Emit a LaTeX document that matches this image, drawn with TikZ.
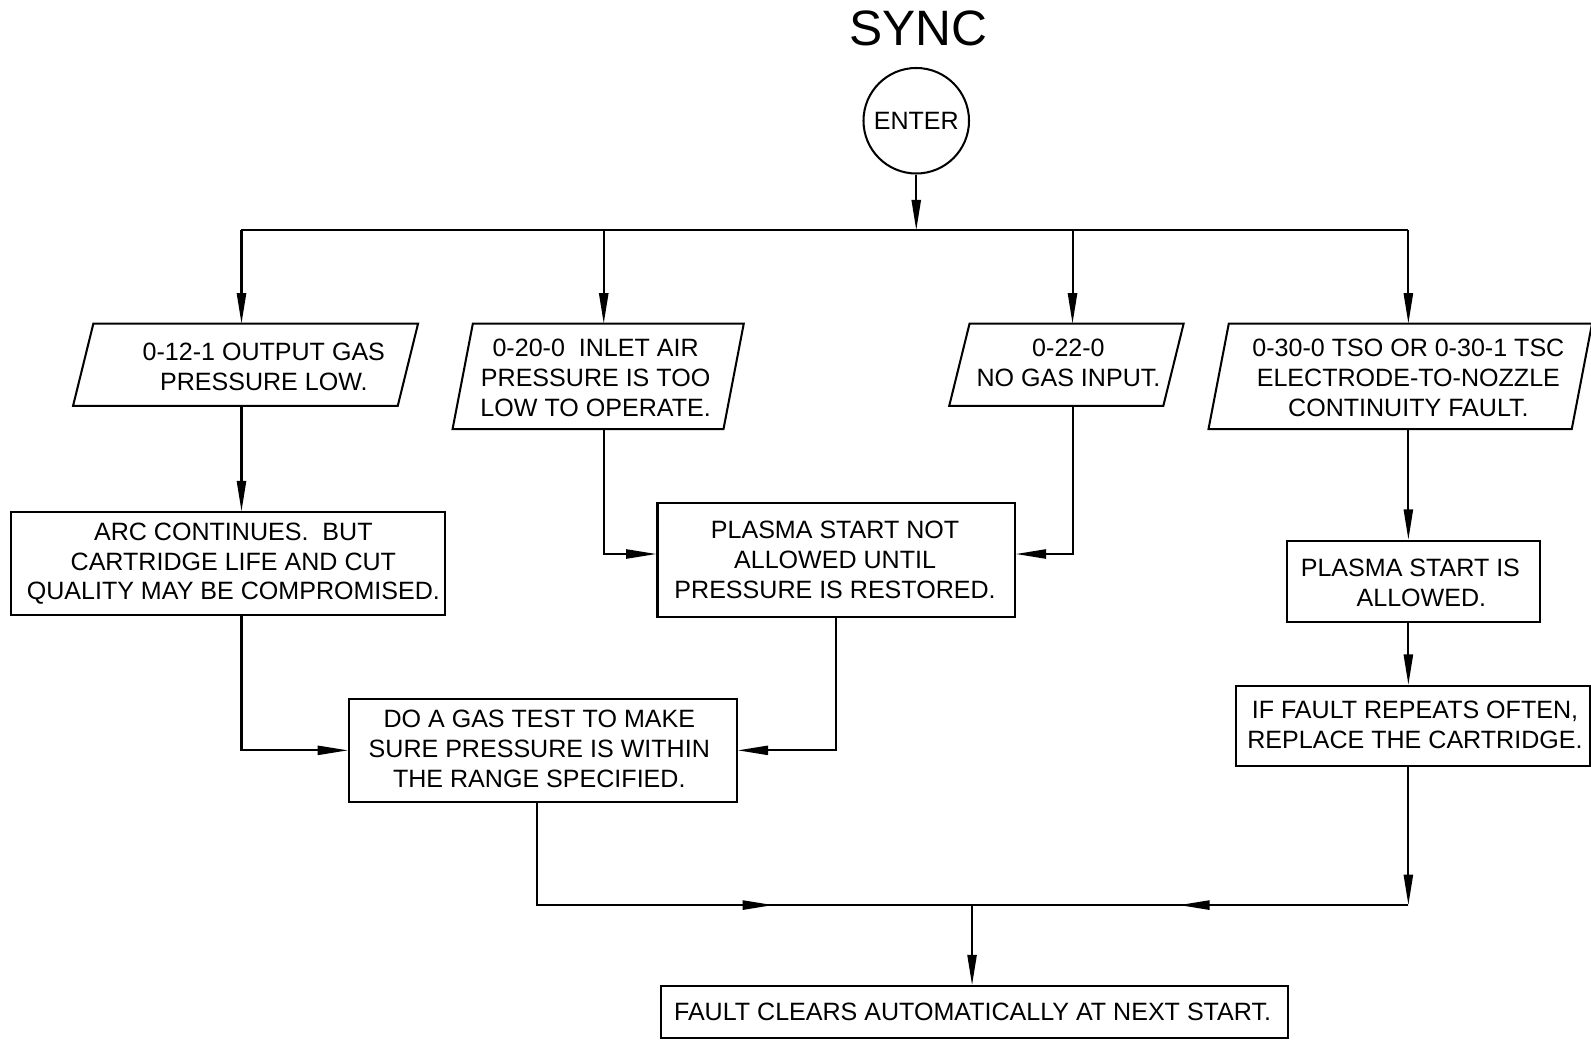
\documentclass[tikz,border=0pt]{standalone}
\usepackage{fontspec}
\setmainfont{Liberation Sans}
\usetikzlibrary{arrows.meta}
\tikzset{
  ln/.style={line width=2pt},
  arr/.style={ln, -{Triangle[length=30pt,width=9pt]}},
  box/.style={draw, ln, rectangle, inner sep=0pt},
  frame/.style={draw=none, rectangle, inner sep=0pt, outer sep=0pt},
  txt/.style={align=center, inner sep=0pt, font=\fontsize{24.7}{29.5}\selectfont},
  para/.style={ln, line join=miter},
}
\begin{document}
\begin{tikzpicture}[x=1pt,y=-1pt]
\fill[white] (0,0) rectangle (1568,1024);
\useasboundingbox (0,0) rectangle (1568,1024);

% title and start
\node[txt, font=\fontsize{49}{56}\selectfont] (title) at (905,28) {SYNC};
\node[circle, draw, ln, minimum size=104pt, txt] (enter) at (903,119) {ENTER};

% parallelograms (frames + outlines)
\node[frame, minimum width=320pt, minimum height=81pt] (p1) at (242,359.5) {};
\node[frame, minimum width=267pt, minimum height=104pt] (p2) at (589.5,371) {};
\node[frame, minimum width=211pt, minimum height=81pt] (p3) at (1051,359.5) {};
\node[frame, minimum width=358pt, minimum height=104pt] (p4) at (1380,371) {};
\foreach \p in {p1,p2,p3,p4}{
  \draw[para] ([xshift=10pt]\p.north west) -- ([xshift=10pt]\p.north east)
     -- ([xshift=-10pt]\p.south east) -- ([xshift=-10pt]\p.south west) -- cycle;
}
\node[txt] (p1t) at (260,361.5) {0-12-1 OUTPUT GAS\\PRESSURE LOW.};
\node[txt] (p2t) at (587,372) {0-20-0\ \ INLET AIR\\PRESSURE IS TOO\\LOW TO OPERATE.};
\node[txt] (p3t) at (1053,358) {0-22-0\\NO GAS INPUT.};
\node[txt] (p4t) at (1388,372) {0-30-0 TSO OR 0-30-1 TSC\\ELECTRODE-TO-NOZZLE\\CONTINUITY FAULT.};

% rectangles
\node[box, minimum width=428pt, minimum height=101pt] (a) at (225,555.5) {};
\node[box, minimum width=352pt, minimum height=113pt] (b) at (824,552) {};
\node[box, minimum width=250pt, minimum height=80pt] (c) at (1393,573) {};
\node[box, minimum width=382pt, minimum height=101pt] (d) at (535,739.5) {};
\node[box, minimum width=349pt, minimum height=79pt] (e) at (1392.5,715.5) {};
\node[box, minimum width=618pt, minimum height=51pt] (f) at (960,997.5) {};

\node[txt] (at) at (230,555.5) {ARC CONTINUES.\ \ BUT\\CARTRIDGE LIFE AND CUT\\QUALITY MAY BE COMPROMISED.};
\node[txt] (bt) at (823,551.5) {PLASMA START NOT\\ALLOWED UNTIL\\PRESSURE IS RESTORED.};
\node[txt, align=left] (ct) at (1390,574.5) {PLASMA START IS\\\hspace*{55pt}ALLOWED.};
\node[txt] (dt) at (531.5,738) {DO A GAS TEST TO MAKE\\SURE PRESSURE IS WITHIN\\THE RANGE SPECIFIED.};
\node[txt] (et) at (1394.5,714.5) {IF FAULT REPEATS OFTEN,\\REPLACE THE CARTRIDGE.};
\node[txt] (ft) at (958.5,997) {FAULT CLEARS AUTOMATICALLY AT NEXT START.};

% connector coordinates
\coordinate (bus) at (903,227);
\coordinate (k1) at (238,227);
\coordinate (k2) at (595,227);
\coordinate (k3) at (1057,227);
\coordinate (k4) at (1388,227);
\coordinate (k5) at (529,892);
\coordinate (J) at (958,892);
\coordinate (m1) at (762,892);
\coordinate (m2) at (1162,892);

% connectors
\draw[arr] (enter.south) -- (bus);
\draw[ln] (k1) -- (k4);
\draw[arr] (k1) -- (k1 |- p1.north);
\draw[arr] (k2) -- (k2 |- p2.north);
\draw[arr] (k3) -- (k3 |- p3.north);
\draw[arr] (k4) -- (k4 |- p4.north);
\draw[arr] (k1 |- p1.south) -- (k1 |- a.north);
\draw[arr] (k2 |- p2.south) |- ([yshift=6pt]b.west);
\draw[arr] (k3 |- p3.south) |- ([yshift=6pt]b.east);
\draw[arr] (k4 |- p4.south) -- (k4 |- c.north);
\draw[arr] (k4 |- c.south) -- (k4 |- e.north);
\draw[arr] (k1 |- a.south) |- (d.west);
\draw[arr] (b.south) |- (d.east);
\draw[ln] (k5 |- d.south) |- (J);
\draw[arr] (k5) -- (m1);
\draw[arr] (k4 |- e.south) -- (k4 |- J);
\draw[ln] (k4 |- J) -- (J);
\draw[arr] (k4 |- J) -- (m2);
\draw[arr] (J) -- (J |- f.north);
\end{tikzpicture}
\end{document}
